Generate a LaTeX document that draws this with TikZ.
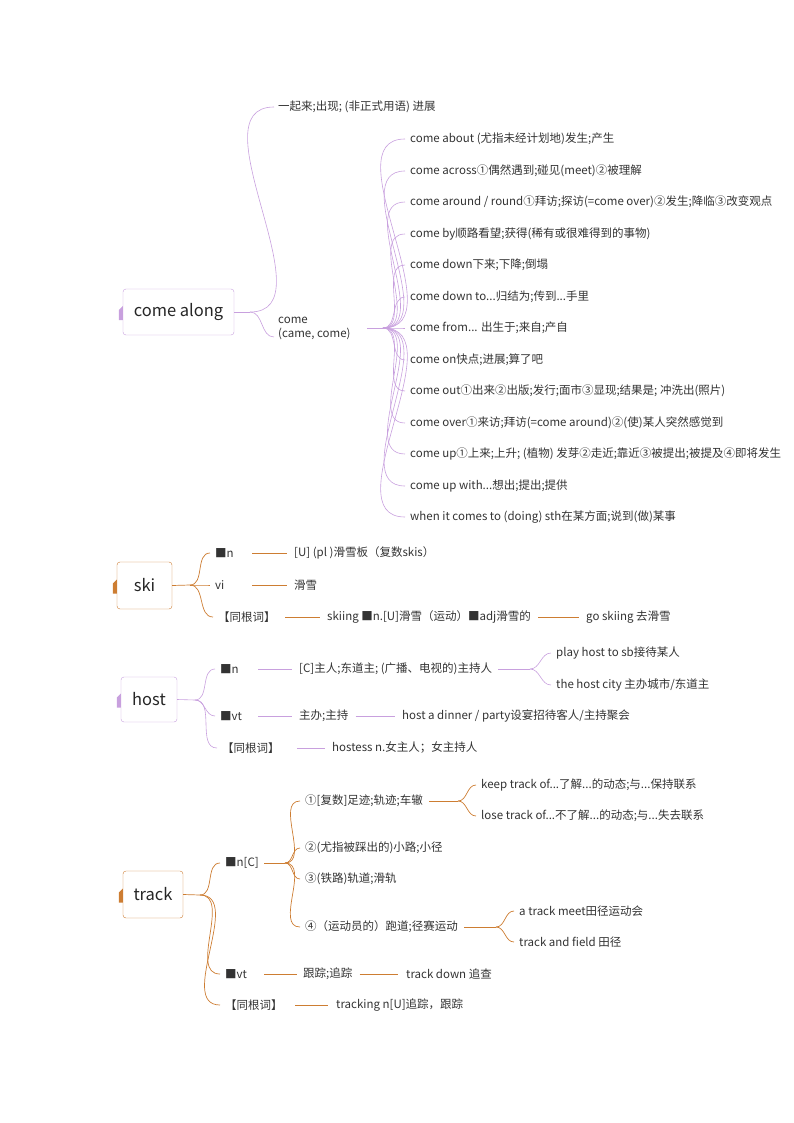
\documentclass[tikz,border=0pt]{standalone}
\usepackage{fontspec}
\setmainfont{Noto Sans CJK SC}
\begin{document}
\begin{tikzpicture}[x=1pt,y=-1pt,
  t/.style={anchor=west,inner sep=0pt,text=black!80,font=\fontsize{11.5}{14}\selectfont},
  root/.style={draw=#1,rounded corners=3pt,fill=white,inner sep=0pt,font=\fontsize{16.5}{20}\selectfont,text=black!85},
  pl/.style={draw=purp,line width=0.6pt},
  ol/.style={draw=oran,line width=0.7pt}]
\definecolor{purp}{RGB}{200,160,222}
\definecolor{oran}{RGB}{205,125,50}
\useasboundingbox (0,0) rectangle (794,1123);
\clip (0,0) rectangle (794,1123);
\newcommand\cb[3]{\draw[#1] #2 to[out=0,in=180] #3;}
% ---------- come along
\node[root=purp,minimum width=111,minimum height=46] (ca) at (178.5,312) {come along};
\fill[purp] ([xshift=-4]ca.west)++(0,-2) -- ++(4,-4) -- ++(0,14) -- ++(-4,0) -- cycle;
\node[t] (c1) at (278,107) {一起来;出现; (非正式用语) 进展};
\node[t,align=left] (c2) at (278,328) {come\\(came, come)};
\coordinate (s0) at (250,312);
\draw[pl] (ca.east) -- (s0);
\cb{pl}{(s0)}{([xshift=-4]c1.west)}
\cb{pl}{(s0)}{([xshift=-4,yshift=-9]c2.west)}
\coordinate (s1) at (383,328);
\draw[pl] (367,328) -- (s1);
\foreach \y/\s [count=\i] in {139/{come about (尤指未经计划地)发生;产生},
 171/{come across①偶然遇到;碰见(meet)②被理解},
 202/{come around / round①拜访;探访(=come over)②发生;降临③改变观点},
 234/{come by顺路看望;获得(稀有或很难得到的事物)},
 265/{come down下来;下降;倒塌},
 297/{come down to...归结为;传到...手里},
 328/{come from... 出生于;来自;产自},
 360/{come on快点;进展;算了吧},
 391/{come out①出来②出版;发行;面市③显现;结果是; 冲洗出(照片)},
 423/{come over①来访;拜访(=come around)②(使)某人突然感觉到},
 454/{come up①上来;上升; (植物) 发芽②走近;靠近③被提出;被提及④即将发生},
 486/{come up with...想出;提出;提供},
 517/{when it comes to (doing) sth在某方面;说到(做)某事}}{
  \node[t] (k\i) at (410,\y) {\s};
  \draw[pl] (s1) to[out=0,in=180] ([xshift=-5]k\i.west);
}
% ---------- ski
\node[root=oran,minimum width=55,minimum height=47] (ski) at (144.5,585.5) {ski};
\fill[oran] ([xshift=-4]ski.west)++(0,-2) -- ++(4,-4) -- ++(0,14) -- ++(-4,0) -- cycle;
\coordinate (sk) at (190,585);
\draw[ol] (ski.east) -- (sk);
\node[t] (sn) at (215,553) {■n};
\node[t] (sv) at (215,585) {vi};
\node[t] (sr) at (218,617) {【同根词】};
\foreach \n in {sn,sv,sr} \draw[ol] (sk) to[out=0,in=180] ([xshift=-5]\n.west);
\node[t] (sn1) at (294,553) {[U] (pl )滑雪板（复数skis）};
\node[t] (sv1) at (294,585) {滑雪};
\node[t] (sr1) at (327,617) {skiing ■n.[U]滑雪（运动）■adj滑雪的};
\node[t] (sr2) at (586,617) {go skiing 去滑雪};
\draw[ol] ([xshift=-42]sn1.west) -- ([xshift=-7]sn1.west);
\draw[ol] ([xshift=-42]sv1.west) -- ([xshift=-7]sv1.west);
\draw[ol] ([xshift=-42]sr1.west) -- ([xshift=-7]sr1.west);
\draw[ol] ([xshift=7]sr1.east) -- ([xshift=-7]sr2.west);
% ---------- host
\node[root=purp,minimum width=56,minimum height=45] (host) at (149,699.5) {host};
\fill[purp] ([xshift=-4]host.west)++(0,-2) -- ++(4,-4) -- ++(0,14) -- ++(-4,0) -- cycle;
\coordinate (hk) at (195,700);
\draw[pl] (host.east) -- (hk);
\node[t] (hn) at (220,669) {■n};
\node[t] (hv) at (220,716) {■vt};
\node[t] (hr) at (222,748) {【同根词】};
\foreach \n in {hn,hv,hr} \draw[pl] (hk) to[out=0,in=180] ([xshift=-5]\n.west);
\node[t] (hn1) at (299,669) {[C]主人;东道主; (广播、电视的)主持人};
\node[t] (hv1) at (299,716) {主办;主持};
\node[t] (hv2) at (402,716) {host a dinner / party设宴招待客人/主持聚会};
\node[t] (hr1) at (332,748) {hostess n.女主人；女主持人};
\draw[pl] ([xshift=-41]hn1.west) -- ([xshift=-7]hn1.west);
\draw[pl] ([xshift=-41]hv1.west) -- ([xshift=-7]hv1.west);
\draw[pl] ([xshift=7]hv1.east) -- ([xshift=-7]hv2.west);
\draw[pl] ([xshift=-35]hr1.west) -- ([xshift=-7]hr1.west);
\node[t] (hp1) at (556,653) {play host to sb接待某人};
\node[t] (hp2) at (556,685) {the host city 主办城市/东道主};
\coordinate (hk2) at (530,669);
\draw[pl] ([xshift=6]hn1.east) -- (hk2);
\draw[pl] (hk2) to[out=0,in=180] ([xshift=-5]hp1.west);
\draw[pl] (hk2) to[out=0,in=180] ([xshift=-5]hp2.west);
% ---------- track
\node[root=oran,minimum width=60,minimum height=47] (tr) at (153,894.5) {track};
\fill[oran] ([xshift=-4]tr.west)++(0,-2) -- ++(4,-4) -- ++(0,14) -- ++(-4,0) -- cycle;
\coordinate (tk) at (200,895);
\draw[ol] (tr.east) -- (tk);
\node[t] (tn) at (225,863) {■n[C]};
\node[t] (tv) at (225,974) {■vt};
\node[t] (trr) at (225,1005) {【同根词】};
\foreach \n in {tn,tv,trr} \draw[ol] (tk) to[out=0,in=180] ([xshift=-5]\n.west);
\coordinate (tk2) at (285,863);
\draw[ol] ([xshift=5]tn.east) -- (tk2);
\node[t] (t1) at (305,801) {①[复数]足迹;轨迹;车辙};
\node[t] (t2) at (305,848) {②(尤指被踩出的)小路;小径};
\node[t] (t3) at (305,879) {③(铁路)轨道;滑轨};
\node[t] (t4) at (305,927) {④（运动员的）跑道;径赛运动};
\foreach \n in {t1,t2,t3,t4} \draw[ol] (tk2) to[out=0,in=180] ([xshift=-5]\n.west);
\node[t] (t1a) at (481,785) {keep track of...了解...的动态;与...保持联系};
\node[t] (t1b) at (481,816) {lose track of...不了解...的动态;与...失去联系};
\coordinate (tk3) at (458,801);
\draw[ol] ([xshift=6]t1.east) -- (tk3);
\foreach \n in {t1a,t1b} \draw[ol] (tk3) to[out=0,in=180] ([xshift=-5]\n.west);
\node[t] (t4a) at (519,911) {a track meet田径运动会};
\node[t] (t4b) at (519,942) {track and field 田径};
\coordinate (tk4) at (496,927);
\draw[ol] ([xshift=6]t4.east) -- (tk4);
\foreach \n in {t4a,t4b} \draw[ol] (tk4) to[out=0,in=180] ([xshift=-5]\n.west);
\node[t] (tv1) at (303,974) {跟踪;追踪};
\node[t] (tv2) at (406,974) {track down 追查};
\node[t] (tr1) at (336,1005) {tracking n[U]追踪，跟踪};
\draw[ol] ([xshift=-39]tv1.west) -- ([xshift=-6]tv1.west);
\draw[ol] ([xshift=7]tv1.east) -- ([xshift=-8]tv2.west);
\draw[ol] ([xshift=-41]tr1.west) -- ([xshift=-8]tr1.west);
\end{tikzpicture}
\end{document}
